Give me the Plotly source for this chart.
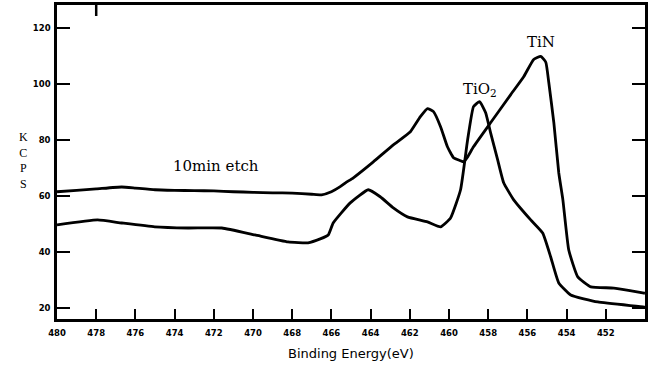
import plotly.graph_objects as go

# Binding energy (eV) and intensity (KCPS)
etch_energy = [480.0, 479.0, 478.0, 476.7, 476.0, 475.0, 474.0, 473.0, 472.0, 471.0,
               470.0, 469.0, 468.0, 467.0, 466.5, 466.0, 465.55, 465.28, 464.88, 463.86,
               462.84, 461.97, 461.46, 461.10, 460.79, 460.43, 460.08, 459.77, 459.41,
               459.26, 459.05, 458.75, 457.88, 456.85, 456.19, 455.68, 455.32, 455.06,
               454.91, 454.65, 454.40, 454.19, 453.89, 453.43, 452.76, 451.59, 450.05, 450.0]
etch_kcps = [61.5, 62.0, 62.5, 63.2, 62.8, 62.2, 62.0, 61.9, 61.8, 61.5,
             61.3, 61.1, 61.0, 60.6, 60.4, 61.5, 63.3, 64.7, 66.5, 72.2,
             78.3, 83.0, 88.4, 91.3, 90.2, 84.8, 77.6, 73.7, 72.6,
             72.2, 74.0, 77.6, 86.2, 96.3, 102.7, 108.9, 110.0, 107.9,
             100.7, 86.2, 68.3, 58.6, 40.6, 31.0, 27.4, 27.0, 25.2, 25.1]

ref_energy = [480.0, 477.93, 476.70, 475.01, 473.32, 471.59, 469.90, 468.21, 467.19,
              466.57, 466.16, 465.91, 465.04, 464.12, 463.51, 462.84, 462.12, 461.10,
              460.43, 459.92, 459.41, 459.05, 458.75, 458.44, 458.13, 457.88, 457.52,
              457.21, 456.70, 455.83, 455.22, 454.81, 454.40, 453.79, 452.41, 450.05, 450.0]
ref_kcps = [49.6, 51.4, 50.3, 48.9, 48.5, 48.5, 46.0, 43.5, 43.2,
            44.6, 46.0, 50.3, 57.5, 62.2, 59.7, 55.7, 52.5, 50.7,
            48.9, 52.1, 62.2, 80.1, 92.0, 93.8, 89.8, 82.7, 73.0,
            64.7, 58.6, 51.4, 46.7, 38.1, 28.8, 24.5, 22.0, 20.2, 20.1]

x_ticks = [480, 478, 476, 474, 472, 470, 468, 466, 464, 462, 460, 458, 456, 454, 452, 450]
y_ticks = [20, 40, 60, 80, 100, 120]

fig = go.Figure()
for xs, ys in [(etch_energy, etch_kcps), (ref_energy, ref_kcps)]:
    fig.add_trace(go.Scatter(x=xs, y=ys, mode="lines",
                             line=dict(color="black", width=2.8, shape="spline", smoothing=0.4),
                             showlegend=False, hoverinfo="skip"))

tickfont = dict(family="DejaVu Sans", size=8.5, color="black", weight="bold")
fig.update_layout(
    width=650, height=371,
    margin=dict(l=57, r=5, t=5, b=52, autoexpand=False),
    paper_bgcolor="white", plot_bgcolor="white",
    xaxis=dict(range=[480, 450], tickvals=x_ticks, ticktext=[str(v) for v in x_ticks],
               ticks="inside", ticklen=10, tickwidth=2.2, tickcolor="black",
               showline=True, linecolor="black", linewidth=2.5, mirror=True,
               showgrid=False, zeroline=False, tickfont=tickfont, ticklabelstandoff=4,
               automargin=False),
    yaxis=dict(range=[15.9, 128.4], tickvals=y_ticks, ticktext=[str(v) for v in y_ticks],
               ticks="inside", ticklen=13, tickwidth=2, tickcolor="black",
               showline=True, linecolor="black", linewidth=2.5, mirror="ticks",
               showgrid=False, zeroline=False, tickfont=tickfont, ticklabelstandoff=2,
               automargin=False),
    font=dict(family="DejaVu Serif", color="black"),
)

fig.add_shape(type="line", xref="x", yref="paper", x0=478, x1=478, y0=1, y1=1 - 11 / 314,
              line=dict(color="black", width=2.5))

fig.add_annotation(x=0.5, y=-0.111, xref="paper", yref="paper", text="Binding Energy(eV)",
                   showarrow=False, yanchor="middle",
                   font=dict(family="DejaVu Sans", size=13, color="black"))
fig.add_annotation(x=-0.068, y=0.506, xref="paper", yref="paper", text="K<br>C<br>P<br>S",
                   showarrow=False, font=dict(family="Liberation Serif", size=12, color="black"))
fig.add_annotation(x=471.89, y=70.8, text="10min etch", showarrow=False,
                   font=dict(family="DejaVu Serif", size=15, color="black"))
fig.add_annotation(x=458.44, y=98.1, text="TiO<sub>2</sub>", showarrow=False,
                   font=dict(family="DejaVu Serif", size=15, color="black"))
fig.add_annotation(x=455.32, y=115.0, text="TiN", showarrow=False,
                   font=dict(family="DejaVu Serif", size=15, color="black"))

fig.write_html("out.html", config={"displayModeBar": False},
               post_script="document.body.style.margin='0';")
